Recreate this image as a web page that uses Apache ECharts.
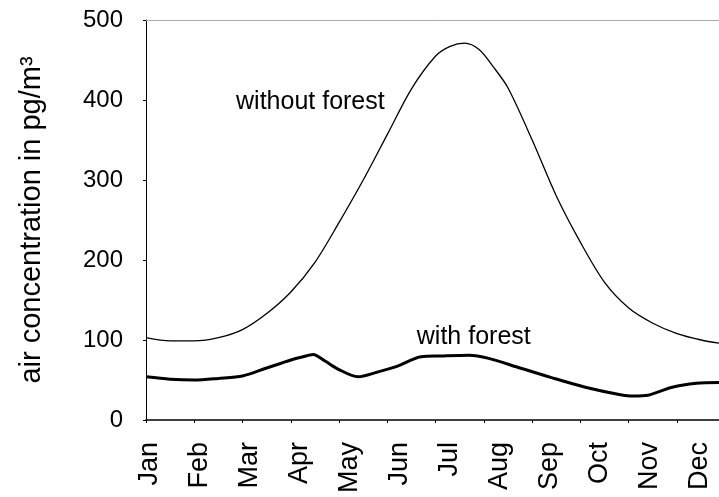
<!DOCTYPE html>
<html>
<head>
<meta charset="utf-8">
<script src="https://cdn.jsdelivr.net/npm/echarts@6/dist/echarts.min.js"></script>
<style>
html,body{margin:0;padding:0;background:#fff;}
#chart{width:719px;height:497px;}
</style>
</head>
<body>
<div id="chart"></div>
<script>
// Month tick labels
const months = ['Jan','Feb','Mar','Apr','May','Jun','Jul','Aug','Sep','Oct','Nov','Dec'];
// y-axis
const yMin = 0, yMax = 500, yStep = 100;
// "without forest" series (x in months from Jan 1, y in pg/m3)
const withoutX = [0, 0.5, 1, 1.5, 2, 2.5, 3, 3.5, 4, 4.5, 5, 5.5, 6, 6.3, 6.6, 6.9, 7.2, 7.5, 8, 8.5, 9, 9.5, 10, 10.5, 11, 11.5, 11.87];
const withoutY = [103, 99, 99, 103, 113, 133, 160, 197, 247, 300, 357, 414, 455, 467, 471, 463, 441, 415, 350, 280, 222, 172, 140, 121, 108, 100, 96];
// "with forest" series
const withX = [0, 0.5, 1, 1.5, 2, 2.5, 3, 3.25, 3.46, 3.7, 4.0, 4.39, 4.8, 5.2, 5.7, 6.1, 6.7, 7.1, 7.7, 8.4, 9.1, 9.8, 10.1, 10.4, 10.9, 11.4, 11.87];
const withY = [54, 51, 50, 52, 55, 65, 75, 79, 82, 74, 63, 54, 60, 67, 79, 80, 81, 77, 66, 53, 41, 32, 30, 31, 41, 46, 47];
// annotation texts and anchor points (data coordinates)
const labelWithout = {text: 'without forest', x: 1.865, y: 397};
const labelWith = {text: 'with forest', x: 5.61, y: 104};

const FONT = "'Liberation Sans', Arial, Helvetica, sans-serif";
const zip = (xs, ys) => xs.map((x, i) => [x, ys[i]]);
const monthIdx = months.map((m, i) => i);

const chart = echarts.init(document.getElementById('chart'), null, {renderer: 'canvas'});
chart.setOption({
  animation: false,
  backgroundColor: '#fff',
  textStyle: {fontFamily: FONT, color: '#000'},
  grid: {left: 146, top: 20, right: 0, bottom: 77, containLabel: false},
  xAxis: [
    { // tick axis (data axis)
      type: 'value', min: 0, max: 11.87, interval: 1,
      axisLine: {show: true, lineStyle: {color: '#000', width: 1.5}},
      axisTick: {show: true, length: 3, customValues: monthIdx, lineStyle: {color: '#000'}},
      axisLabel: {show: false},
      splitLine: {show: false}
    },
    { // label axis (month names)
      type: 'value', min: -0.08, max: 11.38, position: 'bottom',
      axisLine: {show: false},
      axisTick: {show: false},
      splitLine: {show: false},
      axisLabel: {
        show: true, rotate: 90, margin: 22,
        customValues: monthIdx,
        formatter: v => months[Math.round(v)] || '',
        fontFamily: FONT, fontSize: 27, color: '#000'
      }
    },
    { // faint top border
      type: 'value', min: 0, max: 11.87, position: 'top',
      axisLine: {show: true, lineStyle: {color: '#aaa', width: 1}},
      axisTick: {show: false}, axisLabel: {show: false}, splitLine: {show: false}
    }
  ],
  yAxis: {
    type: 'value', min: yMin, max: yMax, interval: yStep,
    name: 'air concentration in pg/m³',
    nameLocation: 'middle', nameGap: 100,
    nameTextStyle: {fontFamily: FONT, fontSize: 29, color: '#000'},
    axisLine: {show: true, lineStyle: {color: '#000', width: 1}},
    axisTick: {show: true, length: 3, lineStyle: {color: '#000'}},
    axisLabel: {margin: 23, fontFamily: FONT, fontSize: 24, color: '#000'},
    splitLine: {show: false}
  },
  series: [
    {
      name: 'without forest', type: 'line', xAxisIndex: 0,
      data: zip(withoutX, withoutY),
      smooth: 0.3, showSymbol: false,
      lineStyle: {color: '#000', width: 1.3},
      markPoint: {
        symbol: 'circle', symbolSize: 0,
        label: {show: true, position: 'right', distance: 0, formatter: labelWithout.text,
                fontFamily: FONT, fontSize: 25, color: '#000'},
        data: [{coord: [labelWithout.x, labelWithout.y]}]
      }
    },
    {
      name: 'with forest', type: 'line', xAxisIndex: 0,
      data: zip(withX, withY),
      smooth: 0.3, showSymbol: false,
      lineStyle: {color: '#000', width: 3},
      markPoint: {
        symbol: 'circle', symbolSize: 0,
        label: {show: true, position: 'right', distance: 0, formatter: labelWith.text,
                fontFamily: FONT, fontSize: 25, color: '#000'},
        data: [{coord: [labelWith.x, labelWith.y]}]
      }
    }
  ]
});
</script>
</body>
</html>
